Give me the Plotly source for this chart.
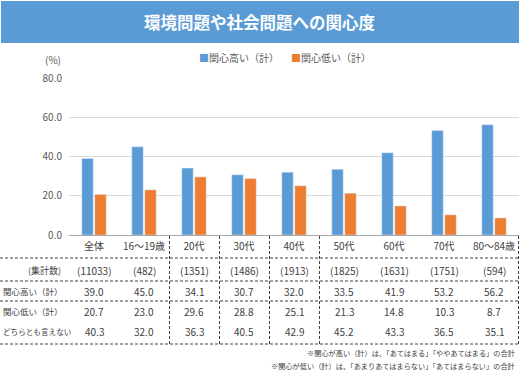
import plotly.graph_objects as go

categories = ["全体", "16～19歳", "20代", "30代", "40代", "50代", "60代", "70代", "80～84歳"]
counts = ["(11033)", "(482)", "(1351)", "(1486)", "(1913)", "(1825)", "(1631)", "(1751)", "(594)"]
high = [39.0, 45.0, 34.1, 30.7, 32.0, 33.5, 41.9, 53.2, 56.2]
low = [20.7, 23.0, 29.6, 28.8, 25.1, 21.3, 14.8, 10.3, 8.7]
neither = [40.3, 32.0, 36.3, 40.5, 42.9, 45.2, 43.3, 36.5, 35.1]
series_names = ["関心高い（計）", "関心低い（計）"]
row_labels = ["(集計数)", "関心高い（計）", "関心低い（計）", "どちらとも言えない"]
y_ticks = [0, 20, 40, 60, 80]
title = "環境問題や社会問題への関心度"
notes = ["※関心が高い（計）は、「あてはまる」「ややあてはまる」の合計",
         "※関心が低い（計）は、「あまりあてはまらない」「あてはまらない」の合計"]

BLUE = "#5B9BD5"
ORANGE = "#ED7D31"
TXT = "#404040"
FONT = "Noto Sans CJK JP"

W, H = 520, 374
PX0, PX1, PY0, PY1 = 69, 519, 78, 235


def px(x):
    return (x - PX0) / (PX1 - PX0)


def py(y):
    return (PY1 - y) / (PY1 - PY0)


fig = go.Figure()
fig.add_trace(go.Bar(x=categories, y=high, name=series_names[0], marker_color=BLUE, showlegend=False))
fig.add_trace(go.Bar(x=categories, y=low, name=series_names[1], marker_color=ORANGE, showlegend=False))

shapes = []
annotations = []

# title banner
shapes.append(dict(type="rect", xref="paper", yref="paper", x0=px(1), x1=px(519), y0=py(1), y1=py(43),
                   fillcolor="#5B9BD5", line=dict(width=0), layer="below"))
annotations.append(dict(text="<b>" + title + "</b>", xref="paper", yref="paper", x=px(260), y=py(22),
                        showarrow=False, font=dict(family=FONT, size=16.5, color="white"),
                        xanchor="center", yanchor="middle"))

# legend (as text)
annotations.append(dict(text=f'<span style="color:{BLUE}">■</span>{series_names[0]}', xref="paper", yref="paper",
                        x=px(197), y=py(57), showarrow=False, xanchor="left", yanchor="middle",
                        font=dict(family=FONT, size=10, color="#595959")))
annotations.append(dict(text=f'<span style="color:{ORANGE}">■</span>{series_names[1]}', xref="paper", yref="paper",
                        x=px(289), y=py(57), showarrow=False, xanchor="left", yanchor="middle",
                        font=dict(family=FONT, size=10, color="#595959")))
# unit
annotations.append(dict(text="(%)", xref="paper", yref="paper", x=px(63), y=py(59), showarrow=False,
                        xanchor="right", yanchor="middle", font=dict(family=FONT, size=10, color="#595959")))

# table rows
row_y = [270, 291, 311, 331]
rows = [counts, [f"{v:.1f}" for v in high], [f"{v:.1f}" for v in low], [f"{v:.1f}" for v in neither]]
for r, (yy, vals) in enumerate(zip(row_y, rows)):
    for c, v in zip(categories, vals):
        annotations.append(dict(text=v, xref="x", yref="paper", x=c, y=py(yy), showarrow=False,
                                xanchor="center", yanchor="middle", font=dict(family=FONT, size=10, color=TXT)))
# row labels
annotations.append(dict(text=row_labels[0], xref="paper", yref="paper", x=px(63), y=py(row_y[0]), showarrow=False,
                        xanchor="right", yanchor="middle", font=dict(family=FONT, size=9, color=TXT)))
for lbl, yy, fs in zip(row_labels[1:], row_y[1:], [8.5, 8.5, 7.6]):
    annotations.append(dict(text=lbl, xref="paper", yref="paper", x=px(1), y=py(yy), showarrow=False,
                            xanchor="left", yanchor="middle", font=dict(family=FONT, size=fs, color=TXT)))

# table lines
dash_line = dict(color="#404040", width=1, dash="3px,2px")
for yy in [258, 281, 301, 344]:
    shapes.append(dict(type="line", xref="paper", yref="paper", x0=px(0), x1=px(518.5), y0=py(yy), y1=py(yy),
                       line=dash_line))
for xx in [169.5, 219.5, 269.5, 319.5, 518.5]:
    shapes.append(dict(type="line", xref="paper", yref="paper", x0=px(xx), x1=px(xx), y0=py(236), y1=py(344),
                       line=dash_line))

# notes
for note, yy in zip(notes, [353, 366]):
    annotations.append(dict(text=note, xref="paper", yref="paper", x=px(517), y=py(yy), showarrow=False,
                            xanchor="right", yanchor="middle", font=dict(family=FONT, size=7.2, color=TXT)))

fig.update_layout(
    width=W, height=H,
    margin=dict(l=PX0, r=W - PX1, t=PY0, b=H - PY1, pad=0),
    paper_bgcolor="white", plot_bgcolor="white",
    barmode="group", bargap=0.48, bargroupgap=0.12,
    font=dict(family=FONT, size=10, color="#595959"),
    shapes=shapes, annotations=annotations,
    xaxis=dict(showgrid=False, showline=True, linecolor="#A6A6A6", linewidth=1, ticks="",
               tickfont=dict(family=FONT, size=10, color=TXT), ticklabelstandoff=2),
    yaxis=dict(range=[0, 80], tickvals=y_ticks, tickformat=".1f", showgrid=True, gridcolor="#D9D9D9",
               zeroline=False, showline=False, ticks="", tickfont=dict(family=FONT, size=10, color="#595959"),
               ticklabelstandoff=6),
)

fig.write_html("out.html", config={"displayModeBar": False},
               post_script="document.body.style.margin='0';document.body.style.overflow='hidden';")
